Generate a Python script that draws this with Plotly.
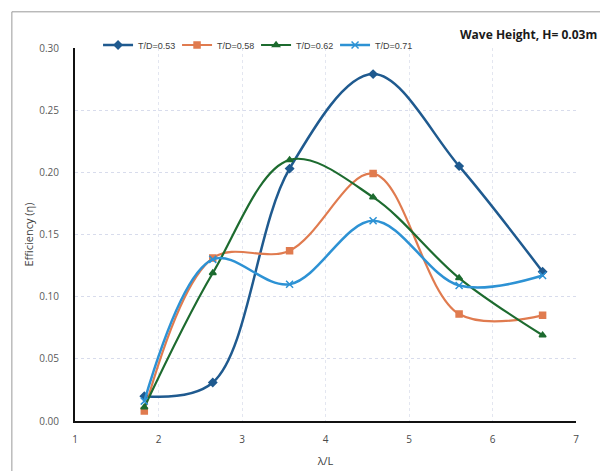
import plotly.graph_objects as go

# Wavelength ratio and efficiency per draft ratio
wave_ratio = [1.83, 2.65, 3.57, 4.57, 5.60, 6.60]
eff_053 = [0.020, 0.031, 0.203, 0.279, 0.205, 0.120]
eff_058 = [0.008, 0.131, 0.137, 0.199, 0.086, 0.085]
eff_062 = [0.011, 0.119, 0.210, 0.180, 0.115, 0.069]
eff_071 = [0.016, 0.130, 0.110, 0.161, 0.109, 0.117]

series_names = ["T/D=0.53", "T/D=0.58", "T/D=0.62", "T/D=0.71"]
series_vals = [eff_053, eff_058, eff_062, eff_071]
colors = ["#1f5a8f", "#e07b4f", "#1d6b2f", "#2d92d4"]
symbols = ["diamond", "square", "triangle-up", "x-thin"]
widths = [2.5, 2.2, 2.2, 2.5]
sizes = [6, 6, 6, 7]

x_ticks = [1, 2, 3, 4, 5, 6, 7]
y_ticks = [0.00, 0.05, 0.10, 0.15, 0.20, 0.25, 0.30]

fig = go.Figure()
for name, vals, c, s, w, sz in zip(series_names, series_vals, colors, symbols, widths, sizes):
    fig.add_trace(go.Scatter(
        x=wave_ratio, y=vals, name=name, mode="lines+markers",
        line=dict(color=c, width=w, shape="spline", smoothing=1.0),
        marker=dict(symbol=s, size=sz, color=c, line=dict(color=c, width=1.5)),
    ))

fig.update_layout(
    width=600, height=471,
    margin=dict(l=75, r=24, t=48, b=50, autoexpand=False),
    paper_bgcolor="white", plot_bgcolor="white",
    font=dict(family="Open Sans, Lato, sans-serif", color="#595959", size=10),
    legend=dict(orientation="h", x=0.046, y=1.008, xanchor="left", yanchor="middle",
                font=dict(family="Liberation Sans, Arial, sans-serif", size=9, color="#404040"),
                itemwidth=30, entrywidth=34, entrywidthmode="pixels",
                tracegroupgap=0, bgcolor="rgba(0,0,0,0)"),
    xaxis=dict(range=[1, 7], tickvals=x_ticks, ticktext=[str(v) for v in x_ticks],
               showgrid=True, gridcolor="#e3e6f0", griddash="dot", gridwidth=1,
               showline=True, linecolor="#111111", linewidth=2,
               zeroline=False, ticks="", ticklabelstandoff=8,
               tickfont=dict(size=10, color="#4a4a4a"),
               title=dict(text="λ/L", font=dict(size=11, color="#404040"), standoff=12)),
    yaxis=dict(range=[0, 0.30], tickvals=y_ticks,
               ticktext=[f"{v:.2f}" for v in y_ticks],
               showgrid=True, gridcolor="#d8dcec", griddash="dot", gridwidth=1,
               showline=True, linecolor="#111111", linewidth=2,
               zeroline=False, ticks="", ticklabelstandoff=12,
               tickfont=dict(size=10, color="#5a5a5a"),
               title=dict(text="Efficiency (η)", font=dict(size=11, color="#404040"), standoff=3)),
    showlegend=True,
)

# Chart frame
fig.add_shape(type="rect", xref="paper", yref="paper",
              x0=-0.126, x1=1.2, y0=-0.3, y1=1.097,
              line=dict(color="#9a9a9a", width=1), layer="below")

fig.add_annotation(text="<b>Wave Height, H= 0.03m</b>", xref="paper", yref="paper",
                   x=0.764, y=1.037, xanchor="left", yanchor="middle", showarrow=False,
                   font=dict(size=12, color="#1a1a1a"))

fig.write_html("out.html")
